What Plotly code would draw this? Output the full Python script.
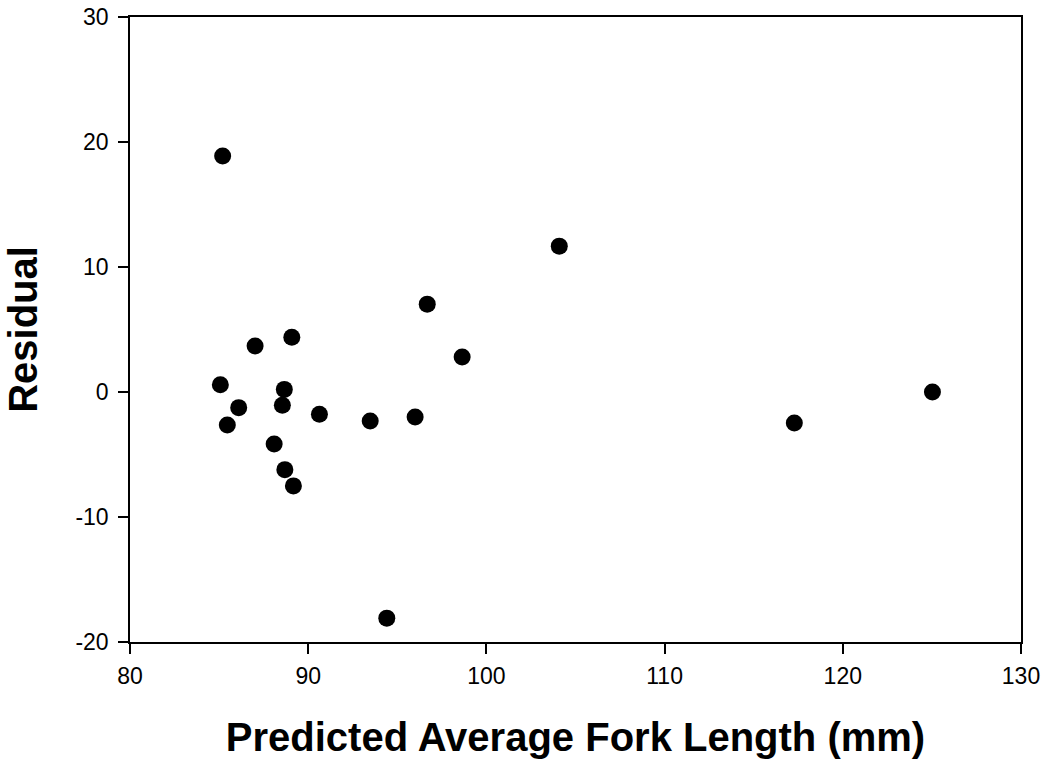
import plotly.graph_objects as go

predicted = [85.2, 85.07, 85.46, 86.10, 87.02, 88.09, 88.55, 88.66, 88.69, 89.08,
             89.17, 90.63, 93.48, 94.41, 96.0, 96.68, 98.64, 104.09, 117.28, 125.03]
residual = [18.88, 0.58, -2.64, -1.25, 3.68, -4.16, -1.06, 0.21, -6.21, 4.38,
            -7.51, -1.78, -2.32, -18.09, -2.0, 7.03, 2.8, 11.67, -2.48, 0.0]

x_ticks = [80, 90, 100, 110, 120, 130]
y_ticks = [-20, -10, 0, 10, 20, 30]

fig = go.Figure()
fig.add_trace(go.Scatter(
    x=predicted, y=residual, mode="markers",
    marker=dict(color="black", size=17, line=dict(width=0)),
    showlegend=False,
))

axis_common = dict(
    showgrid=False, zeroline=False, automargin=False,
    showline=True, linecolor="black", linewidth=1.5, mirror=True,
    ticks="outside", ticklen=10, tickwidth=1.5, tickcolor="black",
    tickfont=dict(family="Liberation Sans, Arial", size=23, color="black"),
)

fig.update_layout(
    width=1049, height=763,
    margin=dict(l=130, r=28, t=17, b=121),
    paper_bgcolor="white", plot_bgcolor="white",
    font=dict(family="Liberation Sans, Arial", color="black"),
    xaxis=dict(
        range=[80, 130], tickvals=x_ticks, ticktext=[str(v) for v in x_ticks],
        ticklabelstandoff=3,
        title=dict(text="<b>Predicted Average Fork Length (mm)</b>",
                   font=dict(size=40, family="Liberation Sans, Arial"), standoff=35),
        **axis_common,
    ),
    yaxis=dict(
        range=[-20, 30], tickvals=y_ticks, ticktext=[str(v) for v in y_ticks],
        ticklabelstandoff=5,
        title=dict(text="<b>Residual</b>",
                   font=dict(size=40, family="Liberation Sans, Arial"), standoff=25),
        **axis_common,
    ),
)

fig.write_html("out.html", config={"displayModeBar": False},
               post_script="document.body.style.margin='0';")
